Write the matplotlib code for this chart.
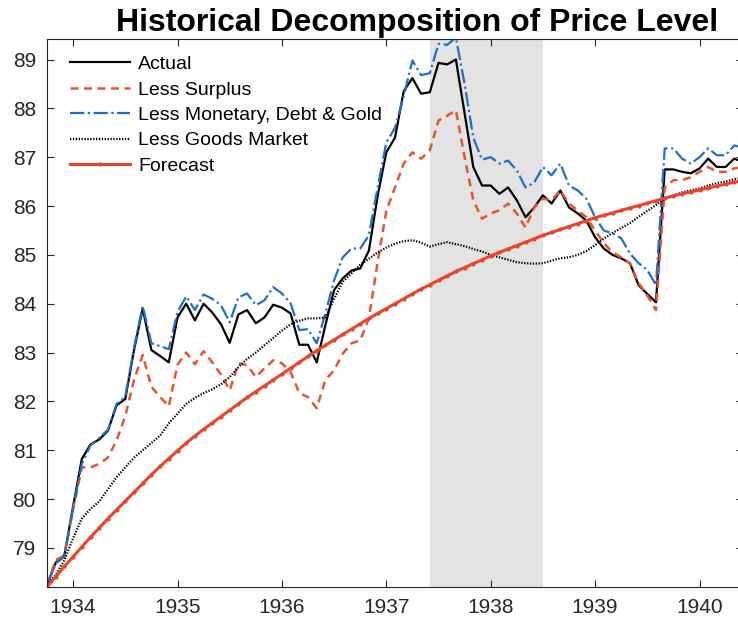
import numpy as np
import matplotlib
matplotlib.use("Agg")
import matplotlib.pyplot as plt

plt.rcParams['font.family'] = ['Liberation Sans', 'DejaVu Sans']

# monthly data, Oct 1933 onwards
start_year = 1933.75
actual = [78.24, 78.7, 78.85, 79.85, 80.82, 81.12, 81.22, 81.4, 81.92, 82.05,
          83.05, 83.9, 83.05, 82.93, 82.8, 83.72, 84.0, 83.66, 84.0, 83.82,
          83.58, 83.2, 83.78, 83.87, 83.6, 83.72, 83.98, 83.92, 83.8, 83.16,
          83.16, 82.8, 83.56, 84.28, 84.52, 84.68, 84.72, 85.09, 86.2, 87.1,
          87.4, 88.35, 88.62, 88.3, 88.33, 88.93, 88.9, 89.0, 87.9, 86.8,
          86.42, 86.42, 86.25, 86.38, 86.12, 85.77, 85.97, 86.22, 86.05, 86.32,
          85.97, 85.85, 85.7, 85.36, 85.13, 85.0, 84.93, 84.83, 84.38, 84.2,
          84.03, 86.75, 86.75, 86.7, 86.67, 86.77, 86.97, 86.8, 86.8, 86.97, 86.9]
less_surplus = [78.24, 78.75, 78.85, 79.8, 80.65, 80.65, 80.72, 80.85, 81.2, 81.7,
                82.44, 82.95, 82.3, 82.09, 81.9, 82.75, 83.0, 82.76, 83.03, 82.8,
                82.55, 82.23, 82.78, 82.74, 82.5, 82.68, 82.84, 82.78, 82.6, 82.17,
                82.09, 81.86, 82.44, 82.64, 82.98, 83.19, 83.25, 83.7, 84.85, 85.9,
                86.38, 86.87, 87.1, 86.97, 87.14, 87.75, 87.85, 87.96, 87.0, 86.12,
                85.74, 85.85, 85.91, 86.05, 85.85, 85.56, 85.97, 86.15, 86.12, 86.32,
                86.05, 85.91, 85.77, 85.5, 85.24, 85.05, 84.95, 84.83, 84.42, 84.17,
                83.87, 86.38, 86.53, 86.53, 86.59, 86.7, 86.8, 86.7, 86.7, 86.77, 86.8]
less_monetary = [78.24, 78.68, 78.82, 79.8, 80.72, 81.1, 81.25, 81.42, 81.95, 82.1,
                 83.1, 83.95, 83.19, 83.13, 83.07, 83.83, 84.15, 83.87, 84.19, 84.1,
                 83.97, 83.62, 84.13, 84.21, 83.97, 84.07, 84.34, 84.21, 84.01, 83.46,
                 83.48, 83.19, 83.8, 84.48, 84.95, 85.13, 85.13, 85.4, 86.38, 87.3,
                 87.6, 88.25, 88.98, 88.68, 88.72, 89.32, 89.3, 89.45, 88.5, 87.4,
                 86.95, 87.0, 86.87, 86.93, 86.73, 86.38, 86.48, 86.8, 86.63, 86.87,
                 86.42, 86.32, 86.15, 85.77, 85.5, 85.44, 85.34, 85.03, 84.83, 84.69,
                 84.38, 87.18, 87.18, 86.97, 86.87, 87.0, 87.18, 87.04, 87.04, 87.24, 87.2]
less_goods = [78.24, 78.45, 78.75, 79.2, 79.6, 79.8, 79.95, 80.2, 80.45, 80.65,
              80.85, 81.0, 81.15, 81.3, 81.55, 81.75, 81.95, 82.07, 82.17, 82.25,
              82.35, 82.5, 82.7, 82.87, 83.0, 83.15, 83.3, 83.45, 83.58, 83.65,
              83.7, 83.7, 83.72, 84.1, 84.45, 84.62, 84.8, 84.92, 85.05, 85.15,
              85.23, 85.28, 85.3, 85.25, 85.17, 85.22, 85.26, 85.22, 85.18, 85.12,
              85.07, 85.0, 84.95, 84.9, 84.85, 84.83, 84.82, 84.83, 84.88, 84.93,
              84.95, 85.0, 85.08, 85.2, 85.33, 85.45, 85.55, 85.65, 85.78, 85.9,
              86.02, 86.15, 86.22, 86.28, 86.32, 86.36, 86.42, 86.47, 86.5, 86.55, 86.58]
forecast = [78.2, 78.41, 78.62, 78.82, 79.02, 79.22, 79.41, 79.6, 79.78, 79.96,
            80.14, 80.32, 80.5, 80.67, 80.83, 80.99, 81.15, 81.29, 81.43, 81.56,
            81.69, 81.82, 81.95, 82.08, 82.2, 82.32, 82.44, 82.56, 82.68, 82.8,
            82.92, 83.04, 83.15, 83.26, 83.37, 83.48, 83.59, 83.7, 83.8, 83.9,
            84.0, 84.1, 84.2, 84.3, 84.39, 84.48, 84.57, 84.66, 84.74, 84.82,
            84.9, 84.98, 85.05, 85.12, 85.19, 85.26, 85.33, 85.4, 85.46, 85.52,
            85.58, 85.64, 85.7, 85.76, 85.81, 85.86, 85.91, 85.96, 86.01, 86.06,
            86.11, 86.16, 86.21, 86.25, 86.29, 86.33, 86.37, 86.41, 86.45, 86.49, 86.53]
recession = (1937 + 5/12, 1938 + 6/12)

t = start_year + np.arange(len(actual)) / 12

fig = plt.figure(figsize=(7.38, 6.25), dpi=100)
# right edge of the axes sits just past the image border, as in the cropped original
ax = fig.add_axes([47/738, 38/625, 696/738, 548/625])

ax.axvspan(recession[0], recession[1], color='#e3e3e3', lw=0, zorder=0)

ax.plot(t, actual, color='black', lw=1.6, label='Actual')
ax.plot(t, less_surplus, color='#e8542c', lw=1.8, ls=(0, (3.2, 2.2)), label='Less Surplus')
ax.plot(t, less_monetary, color='#1f6fc8', lw=1.6, ls='-.', label='Less Monetary, Debt & Gold')
ax.plot(t, less_goods, color='black', lw=1.6, ls=(0, (0.6, 0.7)), label='Less Goods Market')
ax.plot(t, forecast, color='#e8452c', lw=2.2, marker='.', ms=4, label='Forecast')

ax.set_xlim(start_year, t[-1])
ax.set_ylim(78.2, 89.42)
ax.set_xticks(range(1934, 1941))
ax.set_yticks(range(79, 90))
ax.tick_params(direction='in', top=True, right=True, length=5, width=0.8,
               labelsize=15, colors='#262626', pad=8)
for s in ax.spines.values():
    s.set_color('#262626')
    s.set_linewidth(0.8)

ax.set_title('Historical Decomposition of Price Level', fontsize=23, fontweight='bold',
             x=0.532, pad=6)

ax.legend(loc='upper left', bbox_to_anchor=(0.022, 0.984), frameon=False, fontsize=14,
          handlelength=3.1, handletextpad=0.4, labelspacing=0.4, numpoints=1,
          borderaxespad=0)

plt.savefig('out.png', dpi=100)
